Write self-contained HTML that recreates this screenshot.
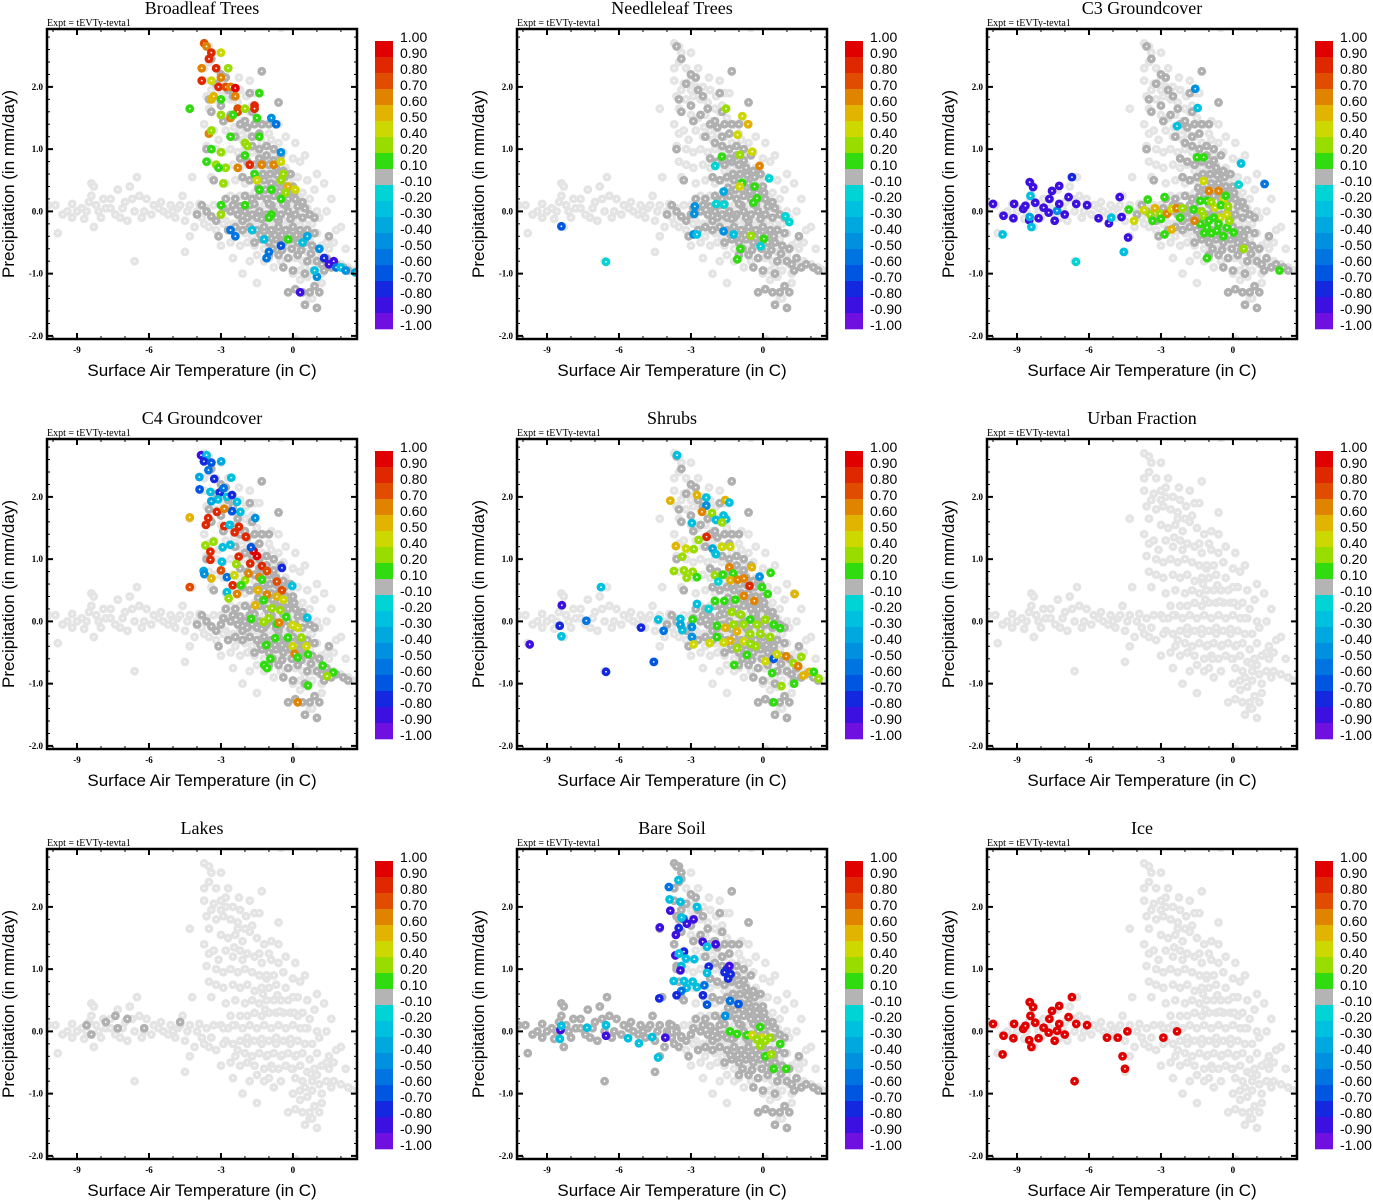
<!DOCTYPE html>
<html><head><meta charset="utf-8"><style>
body{margin:0;background:#fff}
svg{display:block}
.ttl{font-family:"Liberation Serif",serif;font-size:18px;text-anchor:middle}
.expt{font-family:"Liberation Serif",serif;font-size:10px}
.tk{font-family:"Liberation Serif",serif;font-size:9px;font-weight:bold}
.ax{font-family:"Liberation Sans",sans-serif;font-size:17px}
.cb{font-family:"Liberation Sans",sans-serif;font-size:14px}
</style></head><body>
<svg id="fig" width="1373" height="1200" viewBox="0 0 1373 1200"></svg>
<script>
// ---------- data ----------
const panelTitles=["Broadleaf Trees","Needleleaf Trees","C3 Groundcover","C4 Groundcover","Shrubs","Urban Fraction","Lakes","Bare Soil","Ice"];
const xTicks=[-9,-6,-3,0];
const yTicks=[2,1,0,-1,-2];
const yTickLabels=["2.0","1.0","0.0","-1.0","-2.0"];
const cbLabels=["1.00","0.90","0.80","0.70","0.60","0.50","0.40","0.20","0.10","-0.10","-0.20","-0.30","-0.40","-0.50","-0.60","-0.70","-0.80","-0.90","-1.00"];
const cbBounds=[1,0.9,0.8,0.7,0.6,0.5,0.4,0.2,0.1,-0.1,-0.2,-0.3,-0.4,-0.5,-0.6,-0.7,-0.8,-0.9,-1.0];
const cbColors=['#e00000','#e02800','#e04c00','#e08400','#e0b400','#cdd800','#98dc00','#30dc10','#b4b4b4','#00d4d4','#00c0e0','#00a8e0','#0090e0','#0074e0','#0056e0','#1428e0','#3c10e0','#7010e0'];

const lightCloud=[[-10.2,0.1],[-9.9,0.1],[-9.6,-0.05],[-9.2,0.12],[-9.2,-0.1],[-9.8,-0.35],[-8.8,0.05],[-8.6,0.0],[-8.4,0.45],[-8.3,0.4],[-8.4,0.25],[-8.2,0.1],[-8.1,0.0],[-8.3,-0.25],[-8.0,-0.1],[-7.8,0.05],[-7.6,0.05],[-7.6,0.2],[-7.4,-0.05],[-7.3,0.35],[-7.1,0.05],[-7.0,0.15],[-6.9,-0.15],[-6.8,0.4],[-6.6,0.0],[-6.5,0.55],[-6.4,0.25],[-6.2,0.0],[-6.1,0.2],[-6.6,-0.8],[-5.8,0.1],[-5.6,0.05],[-5.4,0.0],[-5.2,-0.05],[-5.0,0.0],[-4.8,0.05],[-4.6,0.25],[-4.5,-0.15],[-4.4,0.0],[-4.2,0.55],[-4.1,-0.25],[-4.0,0.0],[-3.8,-0.1],[-3.6,0.05],[-3.5,-0.25],[-3.3,0.1],[-3.2,-0.3],[-4.3,-0.4],[-4.5,-0.65],[-3.0,-0.55],
[-3.7,2.7],[-3.5,2.65],[-3.4,2.55],[-3.0,2.55],[-3.5,2.4],[-3.7,2.3],[-3.2,2.3],[-2.7,2.3],[-1.3,2.25],[-3.7,2.1],[-3.3,2.05],[-3.0,2.1],[-2.8,2.0],[-2.5,2.0],[-2.2,1.95],[-1.8,2.1],[-1.6,1.9],[-1.4,1.9],[-3.4,1.95],[-3.0,1.95],[-3.2,1.8],[-2.9,1.85],[-2.6,1.8],[-2.3,1.75],[-3.5,1.65],[-4.3,1.65],[-2.0,1.65],[-1.7,1.7],[-0.6,1.75],[-3.0,1.55],[-2.7,1.5],[-2.4,1.55],[-2.1,1.45],[-1.8,1.6],[-1.5,1.5],[-1.2,1.4],[-0.9,1.45],[-0.6,1.4],[-3.5,1.25],[-3.3,1.3],[-2.8,1.3],[-2.5,1.2],[-2.2,1.3],[-1.9,1.25],[-1.6,1.2],[-1.3,1.1],[-0.9,1.15],[-3.6,1.05],[-3.2,1.0],[-2.9,0.95],[-2.6,1.0],[-2.3,0.95],[-2.0,1.0],[-1.7,0.95],[-1.4,0.9],[-1.1,0.85],[-0.8,0.9],[-0.4,0.95],[0.0,0.85],[0.3,0.8],[-3.5,0.8],[-3.2,0.75],[-2.9,0.7],[-2.5,0.75],[-2.2,0.7],[-1.9,0.75],[-1.6,0.65],[-1.3,0.7],[-1.0,0.7],[-0.7,0.75],[-0.3,0.7],[-3.4,0.55],[-2.8,0.45],[-2.4,0.5],[-2.0,0.45],[-1.7,0.5],[-1.4,0.45],[-1.1,0.5],[-0.8,0.5],[-0.5,0.5],[-0.2,0.5],[0.2,0.55],[0.4,0.3],[1.3,0.45],[-2.6,0.25],[-2.2,0.25],[-1.9,0.25],[-1.6,0.3],[-1.3,0.25],[-1.0,0.3],[-0.7,0.3],[-0.4,0.3],[-0.1,0.3],[0.2,0.25],[0.7,0.2],[-3.0,0.1],[-2.7,0.05],[-2.4,0.1],[-2.1,0.05],[-1.8,0.1],[-1.5,0.05],[-1.2,0.1],[-0.9,0.05],[-0.6,0.1],[-0.3,0.05],[0.0,0.1],[0.3,0.05],[0.6,0.05],[1.0,0.0],[1.4,0.0],[-2.8,-0.15],[-2.5,-0.2],[-2.2,-0.15],[-1.9,-0.2],[-1.6,-0.15],[-1.3,-0.2],[-1.0,-0.15],[-0.7,-0.2],[-0.4,-0.15],[-0.1,-0.2],[0.2,-0.15],[0.5,-0.2],[0.8,-0.2],[1.1,-0.1],[-2.4,-0.4],[-2.0,-0.35],[-1.7,-0.4],[-1.4,-0.35],[-1.1,-0.4],[-0.8,-0.35],[-0.5,-0.4],[-0.2,-0.35],[0.1,-0.4],[0.4,-0.35],[0.7,-0.45],[1.0,-0.35],[-2.2,-0.55],[-1.6,-0.55],[-1.2,-0.6],[-0.9,-0.55],[-0.6,-0.6],[-0.3,-0.55],[0.0,-0.6],[0.3,-0.55],[0.6,-0.65],[0.9,-0.6],[1.2,-0.55],[1.5,-0.6],[-2.5,-0.75],[-1.8,-0.8],[-1.0,-0.75],[-0.5,-0.8],[0.1,-0.75],[0.4,-0.8],[0.8,-0.8],[1.1,-0.85],[1.4,-0.8],[1.7,-0.8],[2.0,-0.85],[2.3,-0.9],[2.5,-0.95],[-2.1,-1.0],[0.3,-0.95],[0.8,-0.95],[1.2,-1.0],[0.6,-1.05],[-1.5,-1.15],[-0.2,-1.3],[0.1,-1.25],[0.4,-1.3],[0.7,-1.3],[0.9,-1.2],[1.1,-1.3],[0.5,-1.5],[0.7,-1.4],[1.0,-1.55],[2.0,-0.25],[1.8,-0.3],[0.1,-2.05],[-0.5,2.95],
[-9.4,0.0],[-9.0,0.0],[-8.7,-0.12],[-8.5,0.15],[-7.9,0.2],[-7.2,-0.1],[-6.7,0.2],[-6.3,-0.1],[-5.9,-0.05],[-5.5,0.15],[-5.1,0.1],[-4.9,-0.1],[-4.7,0.1],[-4.3,0.1],[-3.9,0.12],[-3.7,-0.2],[-3.4,-0.1],[-2.9,-0.2],[-2.6,-0.5],[-2.3,-0.3],[-1.9,-0.5],[-1.5,-0.7],[-1.2,-0.8],[-0.8,-0.9],[0.0,-1.0],[0.5,-0.9],[1.0,-0.7],[1.4,-0.5],[1.7,-0.5],[2.2,-0.6],[0.9,0.35],[0.6,0.5],[0.5,0.9],[0.1,1.1],[-0.3,1.2],[-0.6,1.1],[-1.0,1.25],[-2.1,1.15],[-3.1,1.15],[-3.7,1.4],[-2.45,1.35],[-1.95,1.85],[-2.25,2.15],[-3.6,1.85],[1.0,0.6],[1.6,0.2],[0.0,0.55],[0.8,-1.4],[1.2,-1.15],[0.3,-1.1],
[-2.9,0.05],[-2.5,0.1],[-1.9,-0.1],[-1.3,-0.12],[-0.7,-0.1],[-0.1,-0.12],[0.5,0.05],[-1.15,0.35],[-0.55,0.32],[0.05,0.3],[-1.05,-0.38],[-0.45,-0.38],[0.15,-0.38],[-0.85,-0.6],[-0.05,-0.6],[0.75,-0.68],[-1.25,0.6],[-0.65,0.58],[-1.1,0.9],[-1.4,1.25],[-2.3,1.65],[-2.8,2.15],[1.6,-0.9],[1.5,-0.4]];

const darkCloud=[[-3.5,1.8],[-3.0,1.7],[-2.6,1.55],[-2.2,1.4],[-1.9,1.35],[-1.6,1.4],[-1.3,1.4],[-1.0,1.4],[-2.4,1.2],[-2.0,1.1],[-1.7,1.05],[-1.4,1.0],[-1.1,1.05],[-0.8,1.0],[-0.5,0.9],[-2.2,0.85],[-1.9,0.8],[-1.6,0.75],[-1.3,0.8],[-1.0,0.75],[-0.7,0.7],[-0.4,0.65],[-0.1,0.6],[-2.1,0.55],[-1.8,0.5],[-1.5,0.55],[-1.2,0.5],[-0.9,0.45],[-0.6,0.45],[-0.3,0.4],[0.0,0.4],[-2.8,0.2],[-2.4,0.2],[-2.0,0.25],[-1.7,0.2],[-1.4,0.25],[-1.1,0.2],[-0.8,0.25],[-0.5,0.2],[-0.2,0.2],[0.1,0.2],[0.4,0.15],[-3.0,-0.05],[-2.6,0.0],[-2.3,-0.05],[-2.0,0.0],[-1.7,-0.05],[-1.4,0.0],[-1.1,-0.05],[-0.8,0.0],[-0.5,-0.05],[-0.2,0.0],[0.1,-0.05],[0.4,-0.1],[0.7,-0.05],[-2.7,-0.3],[-2.4,-0.25],[-2.1,-0.3],[-1.8,-0.25],[-1.5,-0.3],[-1.2,-0.25],[-0.9,-0.3],[-0.6,-0.25],[-0.3,-0.3],[0.0,-0.25],[0.3,-0.3],[0.6,-0.3],[0.9,-0.35],[-1.6,-0.5],[-1.3,-0.45],[-1.0,-0.5],[-0.7,-0.45],[-0.4,-0.5],[-0.1,-0.45],[0.2,-0.5],[0.5,-0.5],[0.8,-0.55],[1.1,-0.6],[-1.0,-0.7],[-0.6,-0.7],[-0.2,-0.75],[0.2,-0.7],[0.6,-0.8],[1.0,-0.8],[1.4,-0.75],[-0.4,-0.9],[0.0,-0.95],[0.5,-1.0],[1.3,-0.95],[1.8,-0.85],[2.1,-0.9],[-0.2,-1.3],[0.1,-1.25],[0.4,-1.3],[0.7,-1.3],[0.9,-1.2],[1.1,-1.3],[0.5,-1.5],[1.0,-1.55],[-1.3,2.25],[-0.6,1.75],[-1.8,1.9],[-3.4,1.6],[-3.6,1.0],[-3.3,0.5],[-3.1,-0.4],[-3.2,-0.15],[-3.6,0.0],[-3.6,2.65],[-3.4,2.45],[-3.0,2.2],[-2.7,1.95],[-2.9,1.45],[-1.2,-0.1],[-0.9,0.1],[-0.6,-0.15],[-0.3,0.1],[-1.5,-0.1],[-1.8,0.1],[-2.1,-0.15],
[-2.9,0.05],[-2.5,0.1],[-2.2,0.08],[-1.9,-0.1],[-1.6,0.12],[-1.3,-0.12],[-1.0,0.12],[-0.7,-0.1],[-0.4,0.12],[-0.1,-0.12],[0.2,0.08],[0.5,0.05],[-1.45,0.38],[-1.15,0.35],[-0.85,0.35],[-0.55,0.32],[-0.25,0.3],[0.05,0.3],[-1.35,-0.38],[-1.05,-0.38],[-0.75,-0.38],[-0.45,-0.38],[-0.15,-0.38],[0.15,-0.38],[0.45,-0.4],[-0.85,-0.6],[-0.45,-0.62],[-0.05,-0.6],[0.35,-0.62],[0.75,-0.68],[-1.25,0.6],[-0.95,0.6],[-0.65,0.58],[-0.35,0.55],[-1.4,0.85],[-1.1,0.9],[-0.8,0.82],[-1.7,1.2],[-1.4,1.25],[-2.0,1.45],[-2.3,1.65],[-1.7,1.6],[-3.2,2.05],[-2.8,2.15],[-2.5,1.85],[1.2,-0.85],[1.6,-0.9],[2.3,-0.95],[1.5,-0.4],[0.9,-0.1],[-3.8,0.1],[-4.0,-0.05],[-3.4,-0.08]];
const lakesGray=[[-8.6,0.1],[-7.8,0.15],[-7.4,0.25],[-7.3,0.05],[-6.9,0.2],[-6.2,0.05],[-4.7,0.15],[-8.4,-0.05]];

const broadleafPts=[[-3.7,2.7,0.75],[-3.6,2.65,0.6],[-3.4,2.55,0.8],[-3.5,2.45,0.8],[-3.2,2.3,0.85],[-3.8,2.3,0.6],[-3.0,2.55,0.45],[-3.8,2.1,0.8],[-3.4,2.1,0.45],[-3.0,2.15,0.6],[-3.1,2.0,0.8],[-2.8,2.0,0.75],[-2.6,2.0,0.6],[-2.4,1.98,0.95],[-2.4,1.85,0.6],[-3.4,1.8,0.55],[-3.3,1.85,0.5],[-3.0,1.8,0.15],[-2.7,2.3,0.3],[-1.4,1.9,0.15],[-2.3,1.65,0.75],[-2.3,1.6,0.7],[-2.0,1.65,0.3],[-1.6,1.7,0.8],[-1.6,1.65,0.8],[-2.6,1.5,0.6],[-2.5,1.55,0.15],[-3.0,1.55,0.3],[-1.5,1.5,0.15],[-4.3,1.65,0.15],[-3.5,1.25,0.6],[-3.4,1.3,0.2],[-2.6,1.2,0.15],[-2.0,1.1,0.3],[-1.9,1.05,0.3],[-1.4,1.2,0.15],[-3.4,1.0,0.15],[-3.0,0.95,0.3],[-2.0,0.9,0.15],[-1.8,0.75,0.8],[-1.3,0.75,0.6],[-0.8,0.75,0.65],[-0.5,0.8,0.4],[-3.6,0.8,0.15],[-3.2,0.75,0.25],[-2.8,0.7,0.35],[-2.3,0.7,0.6],[-3.1,0.7,0.15],[-1.6,0.6,0.15],[-1.5,0.5,0.45],[-0.4,0.6,0.3],[-0.5,0.5,0.25],[-0.2,0.4,0.5],[0.1,0.35,0.45],[-0.3,0.3,0.2],[-0.5,0.2,0.15],[-1.4,0.35,0.15],[-0.9,0.35,0.15],[-2.9,0.45,0.3],[-3.0,0.1,0.15],[-3.0,-0.05,0.3],[-2.0,0.1,0.15],[-0.9,-0.05,0.15],[-1.0,-0.1,0.15],[-0.2,-0.45,0.15],[-2.6,-0.3,-0.6],[-2.4,-0.4,-0.6],[-1.7,-0.3,-0.3],[-1.2,-0.45,-0.3],[-1.0,-0.65,-0.55],[-1.1,-0.75,-0.6],[-0.5,-0.55,-0.7],[0.4,-0.5,-0.3],[0.6,-0.4,-0.35],[1.1,-0.6,-0.45],[1.3,-0.75,-0.8],[1.5,-0.85,-0.9],[1.7,-0.8,-0.85],[1.8,-0.9,-0.6],[2.0,-0.9,-0.3],[2.2,-0.95,-0.45],[2.6,-0.98,-0.4],[1.0,-1.05,-0.5],[0.9,-0.95,-0.25],[-0.9,1.5,-0.5],[-0.7,1.4,-0.6],[-0.5,0.95,-0.5],[0.3,-1.3,-0.9]];
const needleleafPts=[[-1.54,1.65,0.25],[-0.86,1.53,0.4],[-0.62,1.4,0.55],[-1.06,1.23,0.4],[-1.71,0.88,0.15],[-0.96,0.91,0.25],[-0.45,0.96,0.4],[-0.14,0.73,0.65],[0.26,0.53,-0.2],[-0.87,0.46,0.15],[-0.97,0.4,0.4],[-0.35,0.4,0.15],[-0.25,0.21,0.15],[-0.4,0.14,0.15],[-1.99,0.73,-0.2],[-2.84,0.08,-0.45],[-2.86,-0.04,-0.45],[-2.89,-0.37,-0.5],[-2.75,-0.37,-0.3],[-1.64,-0.32,-0.5],[-1.22,-0.37,-0.3],[-0.5,-0.39,0.3],[0.04,-0.44,0.15],[-0.94,-0.6,0.15],[-1.07,-0.77,0.15],[-0.1,-0.56,-0.2],[1.1,-0.17,-0.2],[0.94,-0.08,-0.2],[-1.64,0.32,-0.4],[-1.95,0.12,-0.2],[-1.62,0.11,-0.2],[-8.4,-0.24,-0.7],[-6.54,-0.81,-0.2]];
const c3Pts=[[-10.0,0.12,-0.9],[-9.56,-0.07,-0.9],[-9.15,-0.11,-0.9],[-9.12,0.12,-0.9],[-8.74,0.04,-0.9],[-8.65,0.09,-0.9],[-8.47,0.47,-0.9],[-8.33,0.39,-0.9],[-8.49,-0.14,-0.9],[-8.24,0.14,-0.9],[-8.1,-0.11,-0.9],[-7.89,0.06,-0.9],[-7.68,-0.02,-0.9],[-7.65,0.2,-0.9],[-7.54,0.33,-0.9],[-7.43,-0.15,-0.9],[-7.33,0.01,-0.5],[-7.24,0.41,-0.9],[-7.24,0.12,-0.9],[-7.01,-0.05,-0.9],[-6.85,0.23,-0.9],[-6.71,0.55,-0.75],[-6.53,0.12,-0.9],[-6.08,0.1,-0.9],[-5.6,-0.11,-0.9],[-5.17,-0.19,-0.9],[-4.72,0.23,-0.9],[-4.64,-0.09,-0.9],[-4.37,-0.42,-0.85],[-8.44,0.25,-0.25],[-8.47,-0.09,-0.35],[-8.4,-0.25,-0.25],[-9.6,-0.37,-0.3],[-6.54,-0.81,-0.2],[-4.55,-0.65,-0.25],[-5.07,-0.1,-0.3],[-2.33,1.37,-0.3],[-1.57,1.97,-0.5],[-1.47,1.66,-0.25],[0.34,0.77,-0.25],[0.24,0.43,-0.2],[1.32,0.44,-0.6],[-4.34,0.03,0.15],[-4.12,-0.15,0.4],[-3.55,0.19,0.15],[-3.7,0.02,0.4],[-3.45,-0.05,0.2],[-3.25,0.05,0.5],[-3.05,-0.04,0.3],[-2.75,-0.04,0.65],[-2.55,0.04,0.4],[-2.35,0.05,0.6],[-2.1,0.05,0.3],[-2.85,0.23,0.15],[-2.55,-0.29,0.55],[-2.85,-0.37,0.15],[-3.35,-0.15,0.15],[-3.0,-0.12,0.15],[-2.2,-0.1,0.15],[-1.64,0.03,0.15],[-1.22,-0.07,0.3],[-1.0,0.33,0.65],[-0.6,0.33,0.65],[-1.22,0.49,0.45],[-0.75,0.06,0.45],[-0.53,-0.1,0.4],[-0.25,-0.05,0.45],[-0.4,0.19,0.4],[-1.36,-0.2,0.15],[-1.08,-0.26,0.15],[-0.67,-0.31,0.15],[-0.25,-0.26,0.15],[0.03,-0.34,0.15],[-1.08,0.17,0.15],[-1.36,0.17,0.15],[-1.5,0.87,0.15],[-1.22,0.87,0.15],[-1.08,-0.75,0.15],[0.45,-0.6,0.3],[1.94,-0.95,0.15],[-0.8,-0.1,0.15],[-1.0,-0.15,0.15],[-0.5,0.1,0.15],[-0.3,0.25,0.15],[-0.9,0.15,0.25],[-0.2,0.08,0.2],[-1.3,0.0,0.35],[-1.6,-0.15,0.6],[-0.9,-0.35,0.15],[-0.6,-0.2,0.15],[-1.2,-0.35,0.15],[-0.4,-0.4,0.15],[-0.15,-0.15,0.3]];
const c4Pts=[[-3.83,2.67,-0.85],[-3.6,2.67,-0.3],[-3.71,2.57,-0.75],[-3.4,2.55,-0.7],[-2.99,2.57,-0.35],[-3.52,2.43,-0.55],[-3.9,2.32,-0.35],[-3.28,2.29,-0.8],[-2.57,2.31,-0.3],[-3.89,2.12,-0.7],[-3.44,2.08,-0.3],[-3.05,2.07,-0.8],[-2.89,2.14,-0.6],[-2.75,2.0,-0.3],[-2.54,2.03,-0.8],[-3.12,1.96,-0.25],[-3.4,1.93,-0.4],[-2.33,1.92,-0.3],[-2.19,1.76,-0.3],[-2.54,1.77,-0.7],[-3.17,1.76,0.85],[-2.86,1.81,0.6],[-4.3,1.67,0.5],[-3.53,1.66,0.8],[-3.63,1.55,0.85],[-2.86,1.53,0.85],[-2.64,1.55,-0.3],[-2.25,1.52,0.8],[-2.43,1.43,0.85],[-1.96,1.36,0.8],[-3.31,1.28,0.3],[-3.65,1.22,0.25],[-3.44,1.12,0.8],[-3.44,0.99,0.8],[-2.93,1.19,-0.3],[-2.61,1.23,-0.3],[-2.26,1.04,0.85],[-2.36,0.92,0.3],[-2.96,0.96,-0.3],[-1.64,1.13,0.9],[-1.5,1.05,0.9],[-1.78,0.93,0.85],[-1.29,0.89,0.8],[-1.08,0.81,0.75],[-3.72,0.81,-0.4],[-3.69,0.76,-0.5],[-3.0,0.82,0.75],[-2.75,0.71,-0.6],[-2.44,0.74,0.45],[-2.51,0.58,0.8],[-4.3,0.55,0.75],[-3.4,0.69,0.5],[-1.99,0.66,0.3],[-1.85,0.77,0.6],[-2.17,0.58,0.15],[-1.4,0.71,0.6],[-1.29,0.67,0.15],[-0.67,0.64,0.75],[-0.46,0.5,0.75],[-1.46,0.5,0.55],[-1.08,0.43,0.6],[-0.67,0.4,0.5],[-0.39,0.35,0.45],[-2.75,0.47,-0.3],[-2.68,0.37,0.3],[-2.33,0.44,0.65],[-1.57,0.26,0.5],[-1.22,0.34,0.15],[-0.87,0.21,0.25],[-0.53,0.18,0.3],[-1.74,0.04,0.15],[-1.22,-0.01,0.2],[-0.67,-0.04,0.15],[-1.01,0.05,0.3],[-0.28,0.07,0.15],[-0.57,-0.02,0.6],[-0.01,-0.06,0.4],[0.2,-0.1,0.4],[-0.21,-0.26,0.15],[0.35,-0.26,0.3],[-0.74,-0.27,0.15],[-1.11,-0.38,0.15],[-0.01,-0.4,0.45],[0.56,-0.4,0.45],[0.07,-0.52,0.65],[0.63,-0.53,0.15],[0.2,-0.58,0.15],[-0.94,-0.6,0.15],[-1.2,-0.7,0.15],[-1.08,-0.75,0.15],[1.24,-0.71,0.15],[1.68,-0.82,0.15],[1.42,-0.88,0.3],[0.63,-1.03,0.15],[0.2,-1.3,0.65],[-0.46,0.86,-0.8],[-0.03,0.57,-0.3],[0.6,0.06,-0.3],[-1.57,1.66,-0.5],[-1.75,1.19,-0.7]];
const shrubsPts=[[-3.58,2.67,-0.3],[-3.86,1.94,0.5],[-2.75,2.03,0.5],[-2.36,1.99,-0.25],[-1.57,1.95,0.55],[-1.4,1.91,-0.3],[-2.36,1.86,-0.5],[-2.54,1.76,0.65],[-2.12,1.74,0.3],[-1.96,1.63,-0.25],[-1.64,1.7,-0.25],[-1.53,1.64,-0.3],[-1.7,1.59,0.25],[-2.96,1.58,-0.3],[-2.35,1.36,0.8],[-2.68,1.31,0.25],[-3.63,1.21,0.5],[-3.21,1.17,0.4],[-2.88,1.16,0.3],[-3.36,1.04,0.25],[-2.1,1.17,-0.4],[-1.96,1.08,-0.3],[-1.71,1.2,0.45],[-1.36,1.2,0.4],[-3.71,0.81,0.25],[-3.29,0.82,0.3],[-3.18,0.7,0.25],[-2.93,0.8,0.25],[-2.75,0.71,0.15],[-2.0,0.74,0.3],[-1.86,0.64,-0.2],[-1.67,0.75,0.15],[-1.4,0.87,0.6],[-1.24,0.77,0.15],[-0.46,0.87,0.5],[-0.14,0.72,-0.45],[0.32,0.78,0.15],[-1.36,0.66,0.5],[-1.05,0.67,0.6],[-0.79,0.69,0.6],[-0.56,0.57,0.8],[-0.04,0.55,0.15],[0.2,0.44,0.15],[1.32,0.44,0.5],[-0.79,0.41,0.65],[-0.36,0.33,0.65],[-1.61,0.33,0.15],[-1.15,0.35,0.15],[-2.0,0.33,0.15],[-2.75,0.28,-0.3],[-2.26,0.2,-0.2],[-2.93,0.03,0.15],[-3.44,0.04,-0.25],[-3.36,-0.14,-0.3],[-2.96,-0.25,-0.5],[-2.89,-0.37,0.45],[-2.22,-0.35,0.4],[-1.92,-0.07,0.15],[-1.57,-0.1,0.5],[-1.22,-0.05,0.3],[-0.93,0.11,0.3],[-0.53,0.03,0.15],[-0.25,-0.05,0.3],[0.1,0.03,0.3],[0.45,-0.05,0.15],[0.72,-0.11,0.15],[-1.08,-0.16,0.5],[-1.36,-0.31,0.5],[-0.79,-0.32,0.4],[-0.53,-0.2,0.3],[-0.11,-0.2,0.3],[0.3,-0.25,0.3],[-1.08,-0.43,0.3],[-0.67,-0.54,0.15],[0.1,-0.64,0.4],[0.45,-0.6,-0.7],[0.58,-0.53,0.4],[0.97,-0.56,0.6],[1.28,-0.67,0.3],[1.6,-0.57,0.3],[1.47,-0.72,0.6],[1.68,-0.87,0.5],[1.94,-0.81,0.55],[2.12,-0.81,0.15],[2.32,-0.92,0.25],[0.77,-1.04,0.25],[1.3,-1.0,0.15],[0.38,-0.83,0.15],[0.45,-1.3,0.15],[-1.2,-0.7,0.15],[-1.64,-0.34,0.45],[-1.92,-0.25,0.15],[-0.53,-0.36,0.3],[-0.8,-0.05,0.3],[-1.3,0.15,0.3],[-0.3,-0.4,0.3],[-6.75,0.55,-0.25],[-8.38,0.26,-0.85],[-8.47,-0.07,-0.75],[-8.4,-0.24,-0.25],[-7.36,0.01,-0.55],[-9.72,-0.37,-0.9],[-6.54,-0.81,-0.75],[-5.08,-0.1,-0.75],[-4.55,-0.65,-0.7],[-4.36,0.03,-0.25],[-4.14,-0.15,-0.6],[-3.44,-0.05,-0.35],[-2.96,-0.09,-0.5]];
const urbanPts=[];
const lakesPts=[];
const bareSoilPts=[[-3.52,2.43,-0.3],[-3.92,2.32,-0.55],[-3.89,2.12,-0.25],[-3.44,2.08,-0.25],[-3.86,1.94,-0.85],[-2.75,2.0,-0.3],[-3.31,1.81,-0.6],[-3.17,1.73,-0.85],[-2.89,1.8,-0.85],[-3.39,1.83,-0.25],[-4.3,1.67,-0.85],[-3.51,1.66,-0.8],[-3.63,1.55,-0.9],[-2.51,1.44,-0.85],[-2.33,1.36,-0.25],[-1.97,1.4,-0.85],[-3.29,1.28,-0.75],[-3.65,1.22,-0.85],[-3.5,1.25,-0.25],[-3.21,1.17,-0.3],[-2.86,1.16,-0.25],[-3.4,1.05,-0.25],[-3.44,0.98,-0.85],[-2.26,1.04,-0.8],[-2.33,0.94,-0.3],[-1.5,1.0,-0.8],[-1.4,1.05,-0.85],[-1.6,0.95,-0.8],[-1.35,0.92,-0.8],[-1.45,0.85,-0.75],[-3.72,0.81,-0.3],[-3.29,0.81,-0.3],[-2.93,0.8,-0.3],[-3.18,0.7,-0.3],[-2.75,0.71,-0.25],[-3.4,0.65,-0.55],[-2.44,0.74,-0.55],[-2.5,0.58,-0.8],[-4.32,0.53,-0.8],[-3.6,0.58,-0.8],[-2.33,0.43,-0.7],[-1.37,0.49,-0.6],[-1.02,0.44,-0.65],[-1.57,0.25,-0.5],[-1.37,0.0,0.15],[-1.08,-0.04,0.15],[-0.67,-0.06,0.15],[-0.44,-0.06,0.4],[-0.11,0.07,0.15],[-0.04,-0.1,0.4],[0.1,-0.15,0.3],[0.3,-0.1,0.3],[-0.11,-0.23,0.3],[0.72,-0.2,0.15],[0.1,-0.4,0.15],[0.35,-0.37,0.25],[0.45,-0.6,0.15],[0.97,-0.6,0.15],[-0.25,-0.13,0.3],[-8.44,0.02,-0.85],[-8.46,-0.12,-0.3],[-8.4,0.09,-0.25],[-7.33,0.06,-0.25],[-6.54,-0.07,-0.85],[-6.54,0.1,-0.3],[-5.62,-0.11,-0.3],[-5.17,-0.19,-0.25],[-4.62,-0.09,-0.25],[-4.37,-0.42,-0.25],[-4.07,-0.1,-0.85]];
const icePts=[[-10.0,0.12,0.95],[-9.56,-0.07,0.95],[-9.15,-0.11,0.95],[-9.12,0.12,0.95],[-9.6,-0.37,0.95],[-8.74,0.04,0.95],[-8.65,0.09,0.95],[-8.47,0.47,0.95],[-8.33,0.39,0.95],[-8.49,-0.14,0.95],[-8.44,0.25,0.95],[-8.4,-0.25,0.95],[-8.24,0.14,0.95],[-8.1,-0.11,0.95],[-7.89,0.06,0.95],[-7.68,-0.02,0.95],[-7.65,0.2,0.95],[-7.54,0.33,0.95],[-7.43,-0.15,0.95],[-7.33,0.01,0.95],[-7.24,0.41,0.95],[-7.24,0.12,0.95],[-7.01,-0.05,0.95],[-6.85,0.23,0.95],[-6.71,0.55,0.95],[-6.53,0.12,0.95],[-6.6,-0.8,0.95],[-6.08,0.1,0.95],[-5.25,-0.1,0.95],[-4.8,-0.1,0.95],[-4.4,0.0,0.95],[-4.6,-0.4,0.95],[-4.5,-0.6,0.95],[-2.9,-0.1,0.95],[-2.33,0.0,0.95]];

const panelPts=[broadleafPts,needleleafPts,c3Pts,c4Pts,shrubsPts,urbanPts,lakesPts,bareSoilPts,icePts];
const panelDark=[true,true,true,true,true,false,false,true,false];
const panelDarkArm=[false,false,false,false,false,false,false,true,false];

// ---------- drawing ----------
const NS='http://www.w3.org/2000/svg';
const svg=document.getElementById('fig');
function mk(tag,attrs,parent){const e=document.createElementNS(NS,tag);for(const k in attrs)e.setAttribute(k,attrs[k]);(parent||svg).appendChild(e);return e;}
const X0=-10.25,X1=2.67,Y0=-2.05,Y1=2.93,PW=310,PH=310;
function colorFor(v){for(let i=0;i<cbColors.length;i++){if(v<=cbBounds[i]&&v>=cbBounds[i+1])return cbColors[i];}return cbColors[cbColors.length-1];}

panelTitles.forEach((title,p)=>{
  const dx=(p%3)*470, dy=Math.floor(p/3)*410;
  const px=47+dx, py=29+dy;
  const sx=v=>px+(v-X0)/(X1-X0)*PW;
  const sy=v=>py+(Y1-v)/(Y1-Y0)*PH;
  const g=mk('g',{});
  
  
  const t=mk('text',{x:202+dx,y:14+dy,class:'ttl'},g);t.textContent=title;
  
  
  const ex=mk('text',{x:47+dx,y:26+dy,class:'expt'},g);ex.textContent='Expt = tEVTy-tevta1';
  
  
  const cid='clip'+p;
  const cp=mk('clipPath',{id:cid},g);mk('rect',{x:px,y:py,width:PW,height:PH},cp);
  const pts=mk('g',{'clip-path':'url(#'+cid+')'},g);
  
  
  function dot(x,y,col){
    const c=mk('circle',{cx:sx(x),cy:sy(y),r:4.4,fill:col},pts);
    
    
    mk('circle',{cx:sx(x),cy:sy(y),r:0.9,fill:'#fff'},pts);
  }
  lightCloud.forEach(d=>{const dark=panelDarkArm[p]&&d[0]<-3.3;dot(d[0],d[1],dark?'#b0b0b0':'#e4e4e4');});
  if(panelDark[p])darkCloud.forEach(d=>dot(d[0],d[1],'#b0b0b0'));
  if(p===6)lakesGray.forEach(d=>dot(d[0],d[1],'#b0b0b0'));
  panelPts[p].forEach(d=>dot(d[0],d[1],colorFor(d[2])));
  const fr=mk('rect',{x:px,y:py,width:PW,height:PH,fill:'none',stroke:'#000','stroke-width':2.5},g);
  
  
  for(let v=-10;v<=2;v+=1){const X=sx(v);const maj=xTicks.includes(v);const L=maj?6:3;
    mk('line',{x1:X,y1:py+PH,x2:X,y2:py+PH-L,stroke:'#000','stroke-width':maj?2:1},g);
    mk('line',{x1:X,y1:py,x2:X,y2:py+L,stroke:'#000','stroke-width':maj?2:1},g);}
  for(let k=-10;k<=14;k++){const v=k*0.2;const Y=sy(v);const maj=(k%5===0);const L=maj?6:3;
    mk('line',{x1:px,y1:Y,x2:px+L,y2:Y,stroke:'#000','stroke-width':maj?2:1},g);
    mk('line',{x1:px+PW,y1:Y,x2:px+PW-L,y2:Y,stroke:'#000','stroke-width':maj?2:1},g);}
  xTicks.forEach(v=>{const tt=mk('text',{x:sx(v),y:py+PH+14,class:'tk','text-anchor':'middle'},g);tt.textContent=String(v);
    
    });
  yTicks.forEach((v,i)=>{const tt=mk('text',{x:px-4,y:sy(v)+3,class:'tk','text-anchor':'end'},g);tt.textContent=yTickLabels[i];
    
    });
  const xt=mk('text',{x:202+dx,y:376+dy,class:'ax','text-anchor':'middle'},g);xt.textContent='Surface Air Temperature (in C)';
  
  
  const yt=mk('text',{x:0,y:0,class:'ax','text-anchor':'middle',transform:'translate('+(14+dx)+','+(184+dy)+') rotate(-90)'},g);yt.textContent='Precipitation (in mm/day)';
  
  
  const cb=mk('g',{},g);
  
  
  cbColors.forEach((c,i)=>mk('rect',{x:375+dx,y:41+dy+i*16,width:18,height:16.3,fill:c},cb));
  cbLabels.forEach((l,i)=>{const tt=mk('text',{x:400+dx,y:42+dy+i*16,class:'cb'},cb);tt.textContent=l;
    
    });
});
</script>
</body></html>
